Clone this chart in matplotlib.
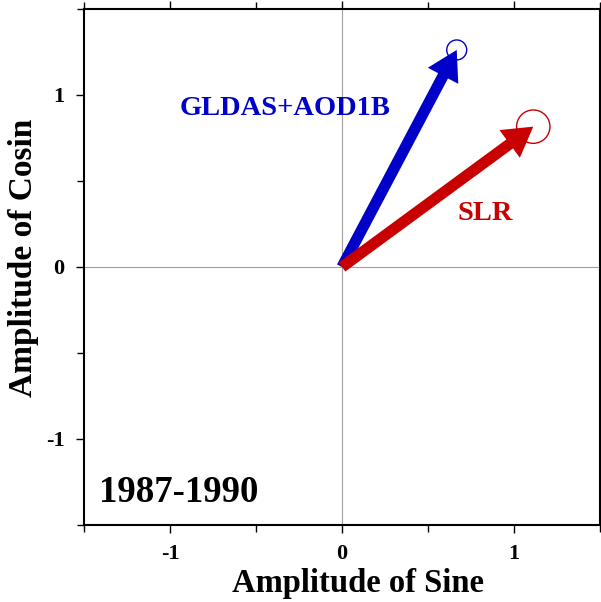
import matplotlib
matplotlib.use("Agg")
import matplotlib.pyplot as plt
from matplotlib.patches import Circle

plt.rcParams['font.family'] = ['Liberation Serif', 'DejaVu Serif']
plt.rcParams['font.weight'] = 'bold'
plt.rcParams['axes.unicode_minus'] = False

# vector tips (sine amplitude, cosine amplitude) and their uncertainty radius
names = ["GLDAS+AOD1B", "SLR"]
sin_amp = [0.667, 1.112]
cos_amp = [1.262, 0.816]
err = [0.058, 0.097]
colors = ["#0000c8", "#c80000"]
label_pos = [(-0.33, 0.92), (0.83, 0.31)]
period = "1987-1990"

fig = plt.figure(figsize=(6.01, 6.02), dpi=100)
ax = fig.add_axes([84/601, 77/602, 516/601, 516/602])
ax.set_xlim(-1.5, 1.5)
ax.set_ylim(-1.5, 1.5)

ax.axhline(0, color='#a0a0a0', lw=0.8, zorder=0)
ax.axvline(0, color='#a0a0a0', lw=0.8, zorder=0)

for i in range(len(names)):
    ax.arrow(0, 0, sin_amp[i], cos_amp[i], width=0.065, head_width=0.2,
             head_length=0.17, length_includes_head=True,
             color=colors[i], lw=0, zorder=3)
    ax.add_patch(Circle((sin_amp[i], cos_amp[i]), err[i], fill=False,
                        edgecolor=colors[i], lw=1.0, zorder=4))
    ax.text(label_pos[i][0], label_pos[i][1], names[i], color=colors[i],
            fontsize=20.5, fontweight='bold', ha='center', va='center')

ax.text(-0.95, -1.31, period, fontsize=26.5, fontweight='bold',
        ha='center', va='center', color='black')

ax.set_xticks([-1, 0, 1])
ax.set_yticks([-1, 0, 1])
ax.set_xticks([-1.5, -0.5, 0.5, 1.5], minor=True)
ax.set_yticks([-1.5, -0.5, 0.5, 1.5], minor=True)
ax.tick_params(which='both', direction='out', top=True, right=True,
               labelsize=16, width=1.0)
ax.tick_params(which='major', length=6, pad=8)
ax.tick_params(which='minor', length=5)
for s in ax.spines.values():
    s.set_linewidth(1.5)

ax.set_xlabel("Amplitude of Sine", fontsize=23.5, fontweight='bold')
ax.set_ylabel("Amplitude of Cosin", fontsize=24, fontweight='bold')
ax.xaxis.set_label_coords(0.531, -0.083)
ax.yaxis.set_label_coords(-0.088, 0.517)

fig.savefig("out.png", dpi=100)
